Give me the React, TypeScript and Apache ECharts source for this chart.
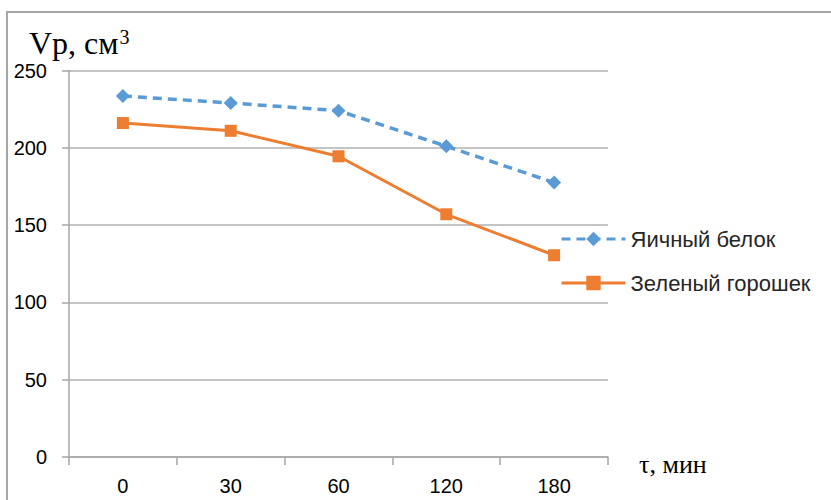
import React, { useEffect, useRef } from "react";
import * as echarts from "echarts";

const categories = ["0", "30", "60", "120", "180"];
const eggWhite = [233.5, 229, 224, 201, 177.5];
const greenPeas = [216, 211, 194.5, 157, 130.5];
const seriesNames = ["Яичный белок", "Зеленый горошек"];

export default function App() {
  const ref = useRef<HTMLDivElement>(null);
  useEffect(() => {
    if (!ref.current) return;
    const chart = echarts.init(ref.current, undefined, { renderer: "svg" });
    const sans = "'Liberation Sans', Arial, sans-serif";
    const serif = "'Liberation Serif', 'Times New Roman', serif";
    chart.setOption({
      animation: false,
      backgroundColor: "#ffffff",
      title: {
        text: "{a|Vp, см}{b|3}",
        left: 24,
        top: 22,
        textStyle: {
          fontWeight: "normal",
          rich: {
            a: { fontFamily: serif, fontSize: 32, fontWeight: "normal", color: "#000" },
            b: { fontFamily: serif, fontSize: 20, fontWeight: "normal", color: "#000", verticalAlign: "top", padding: [0, 0, 12, 1] },
          },
        },
      },
      graphic: [
        {
          type: "rect",
          shape: { x: 7, y: 12, width: 900, height: 600 },
          style: { fill: "none", stroke: "#a6a6a6", lineWidth: 2 },
          silent: true,
        },
        {
          type: "text",
          left: 639,
          top: 451,
          style: { text: "τ, мин", font: `26px ${serif}`, fill: "#000" },
        },
      ],
      legend: {
        orient: "vertical",
        left: 555,
        top: 223,
        itemWidth: 64,
        itemHeight: 18,
        itemGap: 22,
        lineStyle: { width: 3 },
        textStyle: { fontFamily: sans, fontSize: 22, color: "#262626", lineHeight: 18 },
        data: seriesNames,
      },
      grid: { left: 69, right: 223, top: 70.5, bottom: 43 },
      xAxis: {
        type: "category",
        data: categories,
        boundaryGap: true,
        axisLine: { lineStyle: { color: "#a6a6a6", width: 1.5 } },
        axisTick: { show: true, length: 8, lineStyle: { color: "#a6a6a6", width: 1.5 } },
        axisLabel: { fontFamily: sans, fontSize: 20, color: "#000", margin: 19 },
      },
      yAxis: {
        type: "value",
        min: 0,
        max: 250,
        interval: 50,
        axisLine: { show: true, lineStyle: { color: "#a6a6a6", width: 1.5 } },
        axisTick: { show: true, length: 7, lineStyle: { color: "#a6a6a6", width: 1.5 } },
        axisLabel: { fontFamily: sans, fontSize: 20, color: "#000", margin: 22 },
        splitLine: { lineStyle: { color: "#b0b0b0", width: 1.5 } },
      },
      series: [
        {
          name: seriesNames[0],
          type: "line",
          data: eggWhite,
          symbol: "diamond",
          symbolSize: 14,
          color: "#5B9BD5",
          lineStyle: { type: [9, 6], width: 3.5, color: "#5B9BD5" },
          itemStyle: { color: "#5B9BD5" },
        },
        {
          name: seriesNames[1],
          type: "line",
          data: greenPeas,
          symbol: "rect",
          symbolSize: 12,
          color: "#ED7D31",
          lineStyle: { type: "solid", width: 3, color: "#ED7D31" },
          itemStyle: { color: "#ED7D31" },
        },
      ],
    });
    return () => chart.dispose();
  }, []);
  return (
    <div
      ref={ref}
      style={{ position: "fixed", left: 0, top: 0, width: 831, height: 500 }}
    />
  );
}
